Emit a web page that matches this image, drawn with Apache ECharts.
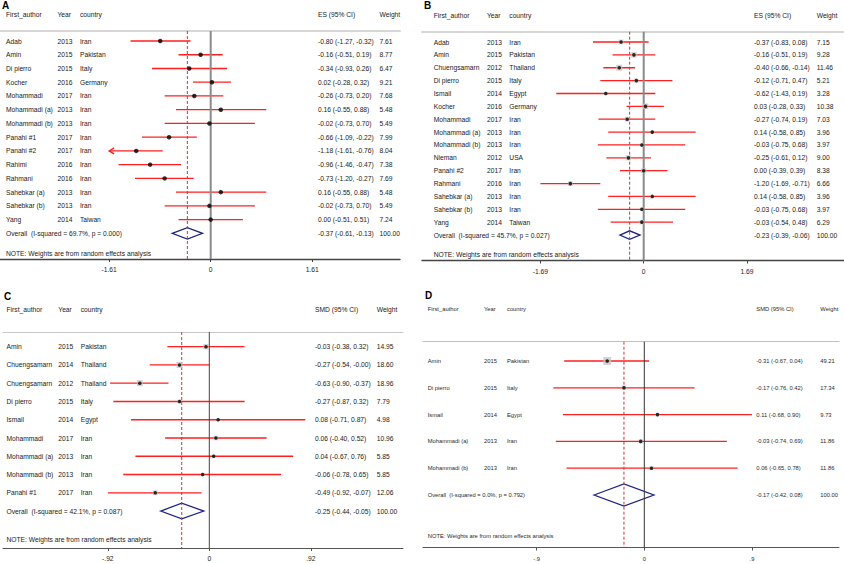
<!DOCTYPE html>
<html><head><meta charset="utf-8">
<script src="https://cdn.jsdelivr.net/npm/echarts@6/dist/echarts.min.js"></script>
<style>html,body{margin:0;padding:0;background:#fff}#c{width:844px;height:564px}</style>
</head><body><div id="c"></div><script>
// ---------- Panel A ----------
const authorsA = ['Adab','Amin','Di pierro','Kocher','Mohammadi','Mohammadi (a)','Mohammadi (b)','Panahi #1','Panahi #2','Rahimi','Rahmani','Sahebkar (a)','Sahebkar (b)','Yang'];
const yearsA = ['2013','2015','2015','2016','2017','2013','2013','2017','2017','2016','2016','2013','2013','2014'];
const countriesA = ['Iran','Pakistan','Italy','Germany','Iran','Iran','Iran','Iran','Iran','Iran','Iran','Iran','Iran','Taiwan'];
const esA = [-0.80,-0.16,-0.34,0.02,-0.26,0.16,-0.02,-0.66,-1.18,-0.96,-0.73,0.16,-0.02,0.00];
const loA = [-1.27,-0.51,-0.93,-0.28,-0.73,-0.55,-0.73,-1.09,-1.61,-1.46,-1.20,-0.55,-0.73,-0.51];
const hiA = [-0.32,0.19,0.26,0.32,0.20,0.88,0.70,-0.22,-0.76,-0.47,-0.27,0.88,0.70,0.51];
const weightsA = [7.61,8.77,6.47,9.21,7.68,5.48,5.49,7.99,8.04,7.38,7.69,5.48,5.49,7.24];
const clippedA = ['Panahi #2'];
const overallA = [-0.37,-0.61,-0.13];
const overallLabelA = 'Overall  (I-squared = 69.7%, p = 0.000)';
const overallWeightA = 100.00;
const headersA = ['First_author','Year','country','ES (95% CI)','Weight'];
const ticksA = [-1.61,0,1.61];
const tickLabelsA = ['-1.61','0','1.61'];

// ---------- Panel B ----------
const authorsB = ['Adab','Amin','Chuengsamarn','Di pierro','Ismail','Kocher','Mohammadi','Mohammadi (a)','Mohammadi (b)','Nieman','Panahi #2','Rahmani','Sahebkar (a)','Sahebkar (b)','Yang'];
const yearsB = ['2013','2015','2012','2015','2014','2016','2017','2013','2013','2012','2017','2016','2013','2013','2014'];
const countriesB = ['Iran','Pakistan','Thailand','Italy','Egypt','Germany','Iran','Iran','Iran','USA','Iran','Iran','Iran','Iran','Taiwan'];
const esB = [-0.37,-0.16,-0.40,-0.12,-0.62,0.03,-0.27,0.14,-0.03,-0.25,0.00,-1.20,0.14,-0.03,-0.03];
const loB = [-0.83,-0.51,-0.66,-0.71,-1.43,-0.28,-0.74,-0.58,-0.75,-0.61,-0.39,-1.69,-0.58,-0.75,-0.54];
const hiB = [0.08,0.19,-0.14,0.47,0.19,0.33,0.19,0.85,0.68,0.12,0.39,-0.71,0.85,0.68,0.48];
const weightsB = [7.15,9.28,11.46,5.21,3.28,10.38,7.03,3.96,3.97,9.00,8.38,6.66,3.96,3.97,6.29];
const clippedB = [];
const overallB = [-0.23,-0.39,-0.06];
const overallLabelB = 'Overall  (I-squared = 45.7%, p = 0.027)';
const overallWeightB = 100.00;
const headersB = ['First_author','Year','country','ES (95% CI)','Weight'];
const ticksB = [-1.69,0,1.69];
const tickLabelsB = ['-1.69','0','1.69'];

// ---------- Panel C ----------
const authorsC = ['Amin','Chuengsamarn','Chuengsamarn','Di pierro','Ismail','Mohammadi','Mohammadi (a)','Mohammadi (b)','Panahi #1'];
const yearsC = ['2015','2014','2012','2015','2014','2017','2013','2013','2017'];
const countriesC = ['Pakistan','Thailand','Thailand','Italy','Egypt','Iran','Iran','Iran','Iran'];
const esC = [-0.03,-0.27,-0.63,-0.27,0.08,0.06,0.04,-0.06,-0.49];
const loC = [-0.38,-0.54,-0.90,-0.87,-0.71,-0.40,-0.67,-0.78,-0.92];
const hiC = [0.32,-0.00,-0.37,0.32,0.87,0.52,0.76,0.65,-0.07];
const weightsC = [14.95,18.60,18.96,7.79,4.98,10.96,5.85,5.85,12.06];
const clippedC = [];
const overallC = [-0.25,-0.44,-0.05];
const overallLabelC = 'Overall  (I-squared = 42.1%, p = 0.087)';
const overallWeightC = 100.00;
const headersC = ['First_author','Year','country','SMD (95% CI)','Weight'];
const ticksC = [-0.92,0,0.92];
const tickLabelsC = ['-.92','0','.92'];

// ---------- Panel D ----------
const authorsD = ['Amin','Di pierro','Ismail','Mohammadi (a)','Mohammadi (b)'];
const yearsD = ['2015','2015','2014','2013','2013'];
const countriesD = ['Pakistan','Italy','Egypt','Iran','Iran'];
const esD = [-0.31,-0.17,0.11,-0.03,0.06];
const loD = [-0.67,-0.76,-0.68,-0.74,-0.65];
const hiD = [0.04,0.42,0.90,0.69,0.78];
const weightsD = [49.21,17.34,9.73,11.86,11.86];
const clippedD = [];
const overallD = [-0.17,-0.42,0.08];
const overallLabelD = 'Overall  (I-squared = 0.0%, p = 0.792)';
const overallWeightD = 100.00;
const headersD = ['First_author','Year','country','SMD (95% CI)','Weight'];
const ticksD = [-0.9,0,0.9];
const tickLabelsD = ['-.9','0','.9'];

const noteText = 'NOTE: Weights are from random effects analysis';
const panelLetters = ['A','B','C','D'];

// ---------- assembly ----------
const FONT = '"Liberation Sans", Arial, Helvetica, sans-serif';
const RED = '#ff1f1f';
const NAVY = '#1c2680';
const DASH = '#c23a3a';

const P = [
  {authors:authorsA, years:yearsA, countries:countriesA, es:esA, lo:loA, hi:hiA, w:weightsA, clipped:clippedA, overall:overallA, oLabel:overallLabelA, oW:overallWeightA, headers:headersA, ticks:ticksA, tickLabels:tickLabelsA},
  {authors:authorsB, years:yearsB, countries:countriesB, es:esB, lo:loB, hi:hiB, w:weightsB, clipped:clippedB, overall:overallB, oLabel:overallLabelB, oW:overallWeightB, headers:headersB, ticks:ticksB, tickLabels:tickLabelsB},
  {authors:authorsC, years:yearsC, countries:countriesC, es:esC, lo:loC, hi:hiC, w:weightsC, clipped:clippedC, overall:overallC, oLabel:overallLabelC, oW:overallWeightC, headers:headersC, ticks:ticksC, tickLabels:tickLabelsC},
  {authors:authorsD, years:yearsD, countries:countriesD, es:esD, lo:loD, hi:hiD, w:weightsD, clipped:clippedD, overall:overallD, oLabel:overallLabelD, oW:overallWeightD, headers:headersD, ticks:ticksD, tickLabels:tickLabelsD}
];

const L = [
  {left:0, top:31, width:400, bottom:259, zero:210.7, unit:63.1, row0:41, step:13.74, cols:[6,57.5,80,318,379.5], headY:14, noteY:253.5, letter:[2,5], fs:6.7, sq:0, dot:4.5, zc:'#8a8a8a', zw:2, hc:'#d6d6d6', hw:2, ac:'#444', aw:1.3, dh:0.41, tc:'#1a1a1a', lm:7},
  {left:422, top:31.7, width:422, bottom:260.5, zero:643.7, unit:61.12, row0:42, step:12.87, cols:[433.7,487,509.3,754,816.7], headY:15, noteY:254, letter:[424,5], fs:6.7, sq:1.77, dot:3.6, zc:'#8a8a8a', zw:2, hc:'#d6d6d6', hw:2, ac:'#444', aw:1.3, dh:0.33, tc:'#1a1a1a', lm:7},
  {left:3, top:332, width:400, bottom:548, zero:209.3, unit:110.3, row0:346.7, step:18.26, cols:[6.5,58.3,80.7,315,376.7], headY:309.3, noteY:539, letter:[4,296], fs:6.7, sq:1.38, dot:3.6, zc:'#444', zw:1, hc:'#c8c8c8', hw:1, ac:'#555', aw:1, dh:0.43, tc:'#1a1a1a', lm:7},
  {left:423, top:341.7, width:416, bottom:547.5, zero:644.3, unit:119.6, row0:361, step:26.8, cols:[427.7,484,507,756.3,820.3], headY:308.7, noteY:536, letter:[425,295], fs:5.8, sq:1.12, dot:3.6, zc:'#333', zw:1, hc:'#c0c0c0', hw:1, ac:'#555', aw:1, dh:0.41, tc:'#2a2a2a', lm:8}
];

function fmt(v){ const neg = v < 0 || Object.is(v, -0); return (neg ? '-' : '') + Math.abs(v).toFixed(2); }
function ciText(e,l,h){ return fmt(e) + ' (' + fmt(l) + ', ' + fmt(h) + ')'; }

const grids = [], xAxes = [], yAxes = [], series = [], graphics = [];

P.forEach((p, g) => {
  const l = L[g];
  const n = p.authors.length;
  const xmin = (l.left - l.zero) / l.unit, xmax = (l.left + l.width - l.zero) / l.unit;
  const ymin = (l.top - l.row0) / l.step, ymax = (l.bottom - l.row0) / l.step;
  grids.push({left:l.left, top:l.top, width:l.width, height:l.bottom - l.top, containLabel:false});
  const font = l.fs + 'px ' + FONT;
  xAxes.push({
    type:'value', gridIndex:g, position:'bottom', min:xmin, max:xmax,
    axisLine:{show:true, onZero:false, lineStyle:{color:l.ac, width:l.aw}},
    axisTick:{show:true, customValues:p.ticks, length:3, lineStyle:{color:l.ac, width:1}},
    axisLabel:{show:true, customValues:p.ticks, margin:l.lm, fontSize:l.fs, fontFamily:FONT, color:l.tc,
      formatter:(v) => { const i = p.ticks.findIndex(t => Math.abs(t - v) < 1e-9); return i >= 0 ? p.tickLabels[i] : ''; }},
    splitLine:{show:false}
  });
  xAxes.push({
    type:'value', gridIndex:g, position:'top', min:xmin, max:xmax,
    axisLine:{show:true, onZero:false, lineStyle:{color:l.hc, width:l.hw}},
    axisTick:{show:false}, axisLabel:{show:false}, splitLine:{show:false}
  });
  yAxes.push({type:'value', gridIndex:g, inverse:true, min:ymin, max:ymax, show:false});
  const xb = g*2, yi = g;
  const rows = [];
  for (let i = 0; i <= n; i++) rows.push([0, i]);

  series.push({
    type:'custom', xAxisIndex:xb, yAxisIndex:yi, z:2, silent:true, clip:false,
    data: rows,
    renderItem:(params, api) => {
      const i = api.value(1);
      const y = api.coord([0, i])[1];
      const tx = (t, x) => ({type:'text', x:x, y:y, style:{text:t, font:font, fill:l.tc, verticalAlign:'middle', align:'left'}});
      const ch = [];
      if (i < n) {
        const xl = api.coord([p.lo[i], i])[0], xh = api.coord([p.hi[i], i])[0];
        ch.push({type:'line', shape:{x1:xl, y1:y, x2:xh, y2:y}, style:{stroke:RED, lineWidth:1.3}});
        if (p.clipped.indexOf(p.authors[i]) >= 0) {
          ch.push({type:'polyline', shape:{points:[[xl+5, y-3],[xl, y],[xl+5, y+3]]}, style:{stroke:RED, lineWidth:1.3, fill:'none'}});
        }
        ch.push(tx(p.authors[i], l.cols[0]), tx(p.years[i], l.cols[1]), tx(p.countries[i], l.cols[2]),
                tx(ciText(p.es[i], p.lo[i], p.hi[i]), l.cols[3]), tx(p.w[i].toFixed(2), l.cols[4]));
      } else {
        const e = p.overall[0], lo = p.overall[1], hi = p.overall[2];
        const xe = api.coord([e, i])[0], xl = api.coord([lo, i])[0], xh = api.coord([hi, i])[0];
        const dh = l.dh * l.step;
        ch.push({type:'polygon', shape:{points:[[xl, y],[xe, y-dh],[xh, y],[xe, y+dh]]}, style:{stroke:NAVY, fill:'none', lineWidth:1.3}});
        ch.push(tx(p.oLabel, l.cols[0]), tx(ciText(e, lo, hi), l.cols[3]), tx(p.oW.toFixed(2), l.cols[4]));
      }
      return {type:'group', children:ch};
    }
  });
  series.push({type:'line', xAxisIndex:xb, yAxisIndex:yi, z:3, silent:true, symbol:'none', animation:false,
    data:[[0, ymin],[0, ymax]], lineStyle:{color:l.zc, width:l.zw}});
  series.push({type:'line', xAxisIndex:xb, yAxisIndex:yi, z:3, silent:true, symbol:'none', animation:false,
    data:[[p.overall[0], ymin],[p.overall[0], ymax]], lineStyle:{color:DASH, width:1, type:[3,2]}});
  if (l.sq > 0) {
    series.push({type:'scatter', xAxisIndex:xb, yAxisIndex:yi, z:4, silent:true, symbol:'rect',
      data:p.es.map((v, i) => [v, i, p.w[i]]),
      symbolSize:(v) => l.sq * Math.sqrt(v[2]),
      itemStyle:{color:'#c4c4c4'}});
  }
  series.push({type:'scatter', xAxisIndex:xb, yAxisIndex:yi, z:5, silent:true, symbol:'circle',
    data:p.es.map((v, i) => [v, i]), symbolSize:l.dot, itemStyle:{color:'#000'}});

  // header, note, letter
  p.headers.forEach((h, k) => graphics.push({type:'text', x:l.cols[k], y:l.headY,
    style:{text:h, font:font, fill:l.tc, verticalAlign:'middle', align:'left'}}));
  graphics.push({type:'text', x:l.cols[0], y:l.noteY,
    style:{text:noteText, font:font, fill:l.tc, verticalAlign:'middle', align:'left'}});
  graphics.push({type:'text', x:l.letter[0], y:l.letter[1],
    style:{text:panelLetters[g], font:'bold 10px ' + FONT, fill:'#000', verticalAlign:'middle', align:'left'}});
});

const chart = echarts.init(document.getElementById('c'), null, {renderer:'svg', width:844, height:564});
chart.setOption({
  animation:false,
  backgroundColor:'#fff',
  grid:grids, xAxis:xAxes, yAxis:yAxes, series:series, graphic:graphics
});
</script></body></html>
